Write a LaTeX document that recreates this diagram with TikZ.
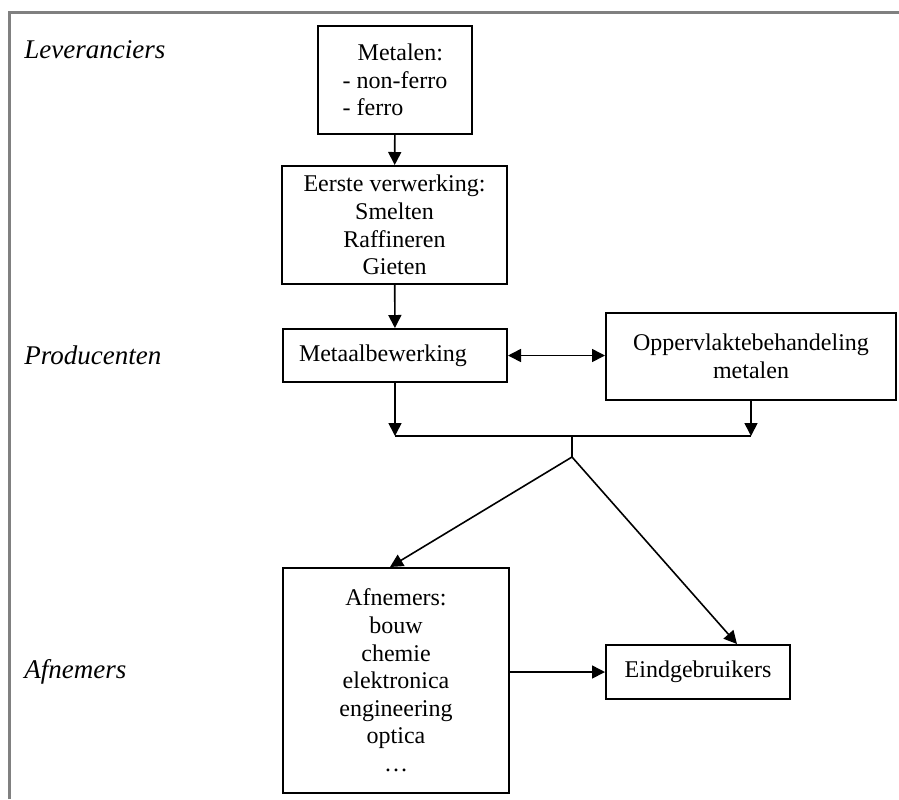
\documentclass[tikz,border=0pt]{standalone}
\usepackage{fontspec}
\setmainfont{Liberation Serif}
\usetikzlibrary{arrows.meta,calc}

\begin{document}
\begin{tikzpicture}[x=0.5pt,y=-0.5pt,
  txt/.style={font=\fontsize{12}{13.8}\selectfont},
  box/.style={txt, draw=black, line width=1pt, rectangle, align=center, inner sep=0pt},
  lbl/.style={font=\fontsize{13.5}{15}\selectfont\itshape, anchor=west, inner sep=0pt},
  conn/.style={black, line width=0.8pt},
  arr/.style={conn, -{Triangle[length=6.5pt, width=6.5pt]}}]
\useasboundingbox (0,0) rectangle (899,799);
\draw[black!50, line width=1.5pt] (9.5,799) -- (9.5,12) -- (899,12);
\node[lbl] (lev) at (24,50) {Leveranciers};
\node[lbl] (prod) at (24,355) {Producenten};
\node[lbl] (afnl) at (24,672) {Afnemers};
\node[box, minimum width=77pt, minimum height=54pt, align=left] (metalen) at (395,80) {\hspace*{7.5pt}Metalen:\\- non-ferro\\- ferro};
\node[box, minimum width=112.5pt, minimum height=59pt] (eerste) at (394.5,225) {Eerste verwerking:\\Smelten\\Raffineren\\Gieten};
\node[box, minimum height=26.5pt, text width=96pt, inner xsep=8pt, align=left] (bewerk) at (395,355.5) {Metaalbewerking};
\node[box, minimum width=145pt, minimum height=43.5pt] (opper) at (751,356.5) {Oppervlaktebehandeling\\metalen};
\node[box, minimum width=113pt, minimum height=112.5pt] (afnemers) at (396,680.5) {Afnemers:\\bouw\\chemie\\elektronica\\engineering\\optica\\\dots};
\node[box, minimum width=92pt, minimum height=27pt] (eind) at (698,672) {Eindgebruikers};
\coordinate (join) at (572,436);
\coordinate (split) at (572,457);
\draw[arr] (metalen) -- (eerste);
\draw[arr] (eerste) -- (bewerk);
\draw[conn, {Triangle[length=6.5pt, width=6.5pt]}-{Triangle[length=6.5pt, width=6.5pt]}] (bewerk.east) -- (bewerk.east -| opper.west);
\draw[arr] (bewerk.south) -- (bewerk.south |- join);
\draw[arr] (opper.south) -- (opper.south |- join);
\draw[conn] (bewerk.south |- join) -- (opper.south |- join);
\draw[conn] (join) -- (split);
\draw[arr] (split) -- ($(afnemers.north)+(-6,0)$);
\draw[arr] (split) -- ($(eind.north)+(39,0)$);
\draw[arr] (afnemers.east |- eind.west) -- (eind.west);
\end{tikzpicture}
\end{document}
